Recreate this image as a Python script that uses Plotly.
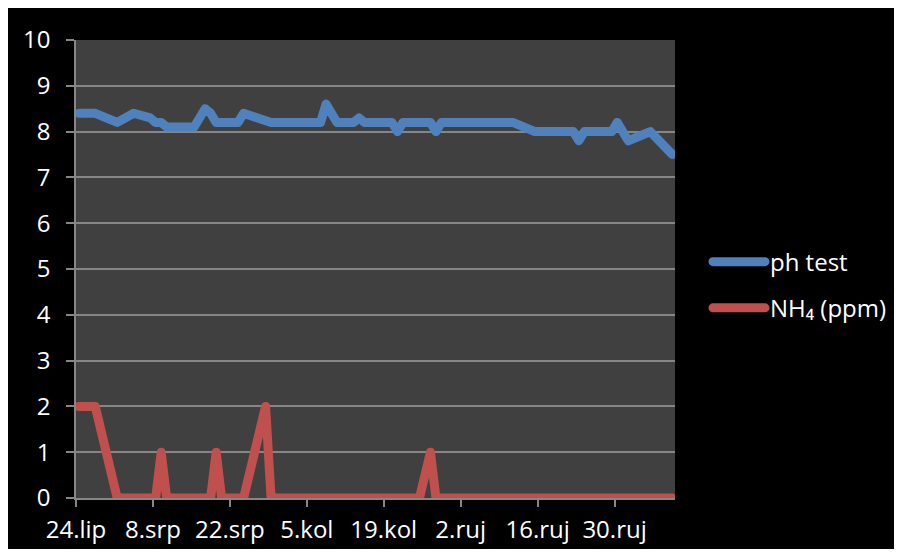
import pandas as pd
import plotly.graph_objects as go

# Measurement dates
dates = ["2013-06-24", "2013-06-27", "2013-07-01", "2013-07-04", "2013-07-07",
         "2013-07-08", "2013-07-09", "2013-07-10", "2013-07-15", "2013-07-17",
         "2013-07-18", "2013-07-19", "2013-07-20", "2013-07-23", "2013-07-24",
         "2013-07-28", "2013-07-29", "2013-08-07", "2013-08-08", "2013-08-10",
         "2013-08-13", "2013-08-14", "2013-08-15", "2013-08-20", "2013-08-21",
         "2013-08-22", "2013-08-25", "2013-08-27", "2013-08-28", "2013-08-29",
         "2013-09-11", "2013-09-15", "2013-09-22", "2013-09-23", "2013-09-24",
         "2013-09-29", "2013-09-30", "2013-10-02", "2013-10-06", "2013-10-10"]

ph_test = [8.4, 8.4, 8.2, 8.4, 8.3,
           8.2, 8.2, 8.1, 8.1, 8.5,
           8.4, 8.2, 8.2, 8.2, 8.4,
           8.2, 8.2, 8.2, 8.6, 8.2,
           8.2, 8.3, 8.2, 8.2, 8.0,
           8.2, 8.2, 8.2, 8.0, 8.2,
           8.2, 8.0, 8.0, 7.8, 8.0,
           8.0, 8.2, 7.8, 8.0, 7.5]

nh4_ppm = [2, 2, 0, 0, 0,
           0, 1, 0, 0, 0,
           0, 1, 0, 0, 0,
           2, 0, 0, 0, 0,
           0, 0, 0, 0, 0,
           0, 0, 1, 0, 0,
           0, 0, 0, 0, 0,
           0, 0, 0, 0, 0]

tick_dates = ["2013-06-24", "2013-07-08", "2013-07-22", "2013-08-05",
              "2013-08-19", "2013-09-02", "2013-09-16", "2013-09-30"]
tick_labels = ["24.lip", "8.srp", "22.srp", "5.kol", "19.kol", "2.ruj", "16.ruj", "30.ruj"]

axis_start = "2013-06-24"
axis_end = "2013-10-11"

# Excel-style date axis: points sit in the middle of their day
x_vals = pd.to_datetime(dates) + pd.Timedelta(hours=12)

FONT = "Open Sans, Lato, Liberation Sans, sans-serif"
GRID = "#868686"
FS = 24

fig = go.Figure()
fig.add_trace(go.Scatter(x=x_vals, y=ph_test, mode="lines", name="ph test",
                         legendgroup="a",
                         line=dict(color="#4F81BD", width=9)))
fig.add_trace(go.Scatter(x=x_vals, y=nh4_ppm, mode="lines", name="NH₄ (ppm)",
                         legendgroup="b",
                         line=dict(color="#C0504D", width=9)))

fig.update_layout(
    width=890, height=541,
    paper_bgcolor="black",
    plot_bgcolor="#404040",
    margin=dict(l=68, r=223, t=32, b=51, autoexpand=False),
    font=dict(family=FONT, size=FS, color="white"),
    showlegend=True,
    legend=dict(xref="container", x=0.7865, y=0.465,
                xanchor="left", yanchor="middle",
                bgcolor="rgba(0,0,0,0)", itemwidth=52,
                tracegroupgap=12,
                font=dict(family=FONT, size=FS, color="white")),
    xaxis=dict(
        type="date",
        range=[axis_start, axis_end],
        tickvals=tick_dates, ticktext=tick_labels,
        ticks="outside", ticklen=7, tickcolor=GRID, tickwidth=1.5,
        showgrid=False, zeroline=False, automargin=False,
        showline=True, linecolor=GRID, linewidth=1.5,
        tickfont=dict(family=FONT, size=FS, color="white"),
        ticklabelstandoff=2,
    ),
    yaxis=dict(
        range=[0, 10], dtick=1, tick0=0,
        ticks="outside", ticklen=8, tickcolor=GRID, tickwidth=1.5,
        showgrid=True, gridcolor=GRID, gridwidth=1.5,
        zeroline=False, automargin=False,
        showline=True, linecolor=GRID, linewidth=1.5,
        tickfont=dict(family=FONT, size=FS, color="white"),
        ticklabelstandoff=11,
    ),
)

round_joins = (
    "document.head.insertAdjacentHTML('beforeend',"
    "'<style>.js-line{stroke-linejoin:round !important;"
    "stroke-linecap:round !important;}</style>');"
)

fig.write_html("out.html", post_script=round_joins)
